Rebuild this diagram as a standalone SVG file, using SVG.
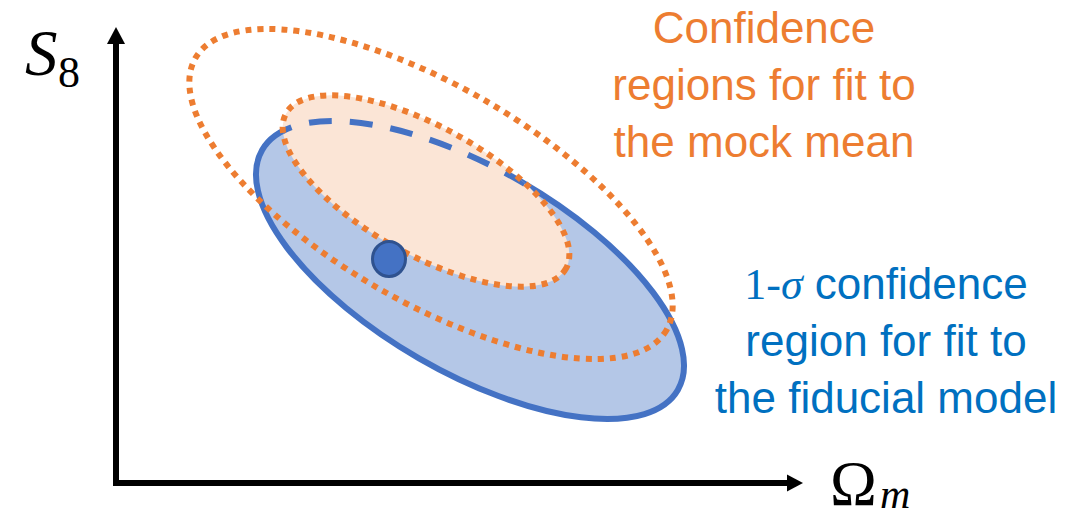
<svg xmlns="http://www.w3.org/2000/svg" width="1081" height="519" viewBox="0 0 1081 519">
<style>
.ax{stroke:#000;stroke-width:6;fill:none}
.dot{fill:none;stroke:#ED7D31;stroke-width:6;stroke-dasharray:6 6}
.math{font-family:"Liberation Serif","DejaVu Serif",serif;fill:#000}
.lbl{font-family:"Liberation Sans",Arial,sans-serif;font-size:44px;text-anchor:middle}
</style>
<defs>
<clipPath id="innerClip"><ellipse cx="426" cy="191" rx="160" ry="64" transform="rotate(29 426 191)"/></clipPath>
</defs>
<g id="connectors">
<line class="ax" x1="116" y1="42" x2="116" y2="486"/>
<line class="ax" x1="113" y1="483" x2="790" y2="483"/>
<polygon points="107,44 116,27 125,44" fill="#000"/>
<polygon points="787,474.5 803,483 787,491.5" fill="#000"/>
</g>
<g id="fiducial-region">
<ellipse cx="470" cy="270" rx="240" ry="102" transform="rotate(30 470 270)" fill="#B4C7E7" stroke="#4472C4" stroke-width="6"/>
</g>
<g id="mock-inner-region">
<ellipse cx="426" cy="191" rx="160" ry="64" transform="rotate(29 426 191)" fill="#FBE5D6"/>
<g clip-path="url(#innerClip)">
<ellipse cx="470" cy="270" rx="240" ry="102" transform="rotate(30 470 270)" fill="none" stroke="#4472C4" stroke-width="6" stroke-dasharray="23 18"/>
</g>
<ellipse class="dot" cx="426" cy="191" rx="160" ry="64" transform="rotate(29 426 191)"/>
</g>
<g id="fiducial-point">
<ellipse cx="389" cy="259" rx="16.5" ry="17.5" fill="#4472C4" stroke="#2F528F" stroke-width="3"/>
</g>
<g id="mock-outer-region">
<ellipse class="dot" cx="431" cy="194" rx="272" ry="108" transform="rotate(30 431 194)"/>
</g>
<g id="y-label">
<text class="math" x="25" y="75" font-size="65" font-style="italic">S</text>
<text class="math" x="58" y="87" font-size="44">8</text>
</g>
<g id="x-label">
<text class="math" x="830" y="505" font-size="63">Ω</text>
<text class="math" x="880" y="508" font-size="42" font-style="italic">m</text>
</g>
<g id="mock-label" fill="#ED7D31">
<text class="lbl" x="764" y="43">Confidence</text>
<text class="lbl" x="764" y="100">regions for fit to</text>
<text class="lbl" x="764" y="157">the mock mean</text>
</g>
<g id="fiducial-label" fill="#0070C0">
<text class="lbl" x="886" y="299"><tspan font-family="Liberation Serif,serif">1-</tspan><tspan font-family="Liberation Serif,serif" font-style="italic">σ</tspan> confidence</text>
<text class="lbl" x="886" y="356">region for fit to</text>
<text class="lbl" x="886" y="413">the fiducial model</text>
</g>
</svg>
